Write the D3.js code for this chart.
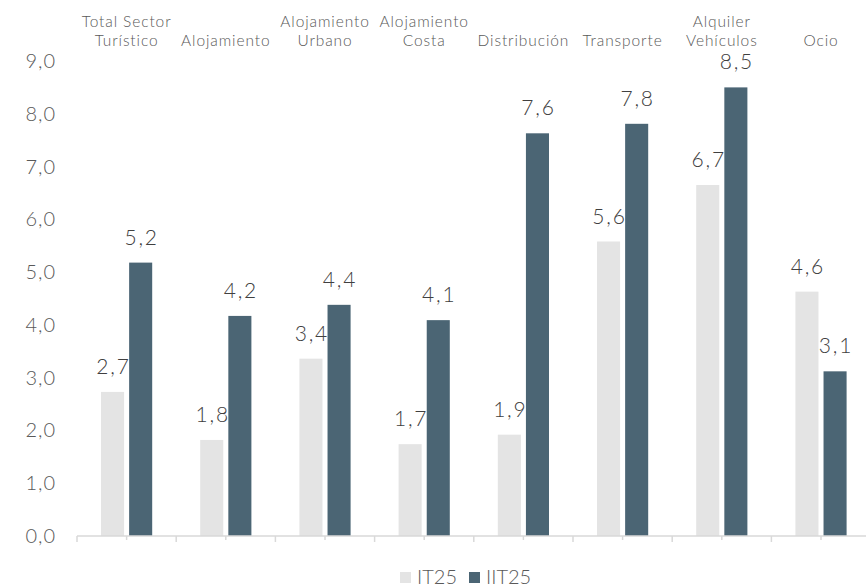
<!DOCTYPE html>
<html>
<head>
<meta charset="utf-8">
<script src="https://cdn.jsdelivr.net/npm/d3@7"></script>
<style>
  body { margin: 0; background: #fff; }
  text { font-family: Lato, "Noto Sans", sans-serif; font-weight: 300; }
</style>
</head>
<body>
<script>
// Categories and series values
const categories = [
  ["Total Sector", "Turístico"],
  ["Alojamiento"],
  ["Alojamiento", "Urbano"],
  ["Alojamiento", "Costa"],
  ["Distribución"],
  ["Transporte"],
  ["Alquiler", "Vehículos"],
  ["Ocio"]
];
const series = ["IT25", "IIT25"];
const it25 = [2.73, 1.82, 3.36, 1.74, 1.92, 5.58, 6.65, 4.63];
const iit25 = [5.18, 4.17, 4.38, 4.09, 7.63, 7.81, 8.50, 3.12];
const yTicks = [0, 1, 2, 3, 4, 5, 6, 7, 8, 9];

const colors = { IT25: "#e4e4e4", IIT25: "#4b6574" };

const width = 866, height = 587;
const svg = d3.select("body").append("svg")
  .attr("width", width)
  .attr("height", height);

const keys = categories.map(c => c.join(" "));
const data = keys.map((k, i) => ({ key: k, IT25: it25[i], IIT25: iit25[i] }));

// Scales
const x = d3.scaleBand()
  .domain(keys)
  .range([77, 870.6]);

const bw = x.bandwidth();
const xSub = d3.scaleBand()
  .domain(series)
  .range([bw * 0.242, bw * 0.758])
  .paddingInner(0.18);

const y = d3.scaleLinear()
  .domain([0, 9])
  .range([536, 61]);

const fmt = v => d3.format(".1f")(v).replace(".", ",");

// Y axis labels (no line)
svg.append("g")
  .selectAll("text")
  .data(yTicks)
  .join("text")
  .attr("x", 56)
  .attr("y", d => y(d))
  .attr("dy", "0.35em")
  .attr("text-anchor", "end")
  .attr("font-size", 20)
  .attr("letter-spacing", 1)
  .attr("fill", "#595959")
  .text(d => fmt(d));

// Bars
const groups = svg.append("g")
  .selectAll("g")
  .data(data)
  .join("g")
  .attr("transform", d => `translate(${x(d.key)},0)`);

groups.selectAll("rect")
  .data(d => series.map(s => ({ s, v: d[s] })))
  .join("rect")
  .attr("x", d => xSub(d.s))
  .attr("width", xSub.bandwidth())
  .attr("y", d => y(d.v))
  .attr("height", d => y(0) - y(d.v))
  .attr("fill", d => colors[d.s]);

// Value labels
groups.selectAll("text.val")
  .data(d => series.map(s => ({ s, v: d[s] })))
  .join("text")
  .attr("class", "val")
  .attr("x", d => xSub(d.s) + xSub.bandwidth() / 2 + 1)
  .attr("y", d => y(d.v) - 18)
  .attr("text-anchor", "middle")
  .attr("font-size", 21)
  .attr("letter-spacing", 1.8)
  .attr("fill", "#404040")
  .text(d => fmt(d.v));

// X axis line and ticks
const axis = svg.append("g");
axis.append("line")
  .attr("x1", 77).attr("x2", width)
  .attr("y1", y(0)).attr("y2", y(0))
  .attr("stroke", "#d9d9d9")
  .attr("stroke-width", 1.5);

const tickPos = [];
keys.forEach(k => {
  tickPos.push({ x: x(k), major: true });
  tickPos.push({ x: x(k) + bw / 2, major: false });
});
axis.selectAll("line.tick")
  .data(tickPos)
  .join("line")
  .attr("class", "tick")
  .attr("x1", d => d.x).attr("x2", d => d.x)
  .attr("y1", y(0))
  .attr("y2", d => y(0) + (d.major ? 6 : 4))
  .attr("stroke", "#d9d9d9")
  .attr("stroke-width", 1.5);

// Category labels on top, bottom aligned
const catLabels = svg.append("g")
  .selectAll("text")
  .data(categories)
  .join("text")
  .attr("text-anchor", "middle")
  .attr("font-size", 15.5)
  .attr("letter-spacing", 0.9)
  .attr("fill", "#595959")
  .attr("transform", (d, i) => `translate(${x(keys[i]) + bw / 2},0)`);

catLabels.selectAll("tspan")
  .data(d => d.map((t, j) => ({ t, row: j + 2 - d.length })))
  .join("tspan")
  .attr("x", 0)
  .attr("y", d => 27 + d.row * 19)
  .text(d => d.t);

// Legend
const legend = svg.append("g")
  .attr("transform", `translate(400,577)`);
const legendItems = [
  { s: "IT25", x: 0 },
  { s: "IIT25", x: 69 }
];
legendItems.forEach(item => {
  legend.append("rect")
    .attr("x", item.x)
    .attr("y", -5)
    .attr("width", 11)
    .attr("height", 11)
    .attr("fill", colors[item.s]);
  legend.append("text")
    .attr("x", item.x + 17)
    .attr("y", 0)
    .attr("dy", "0.35em")
    .attr("font-size", 20)
    .attr("fill", "#595959")
    .text(item.s);
});
</script>
</body>
</html>
